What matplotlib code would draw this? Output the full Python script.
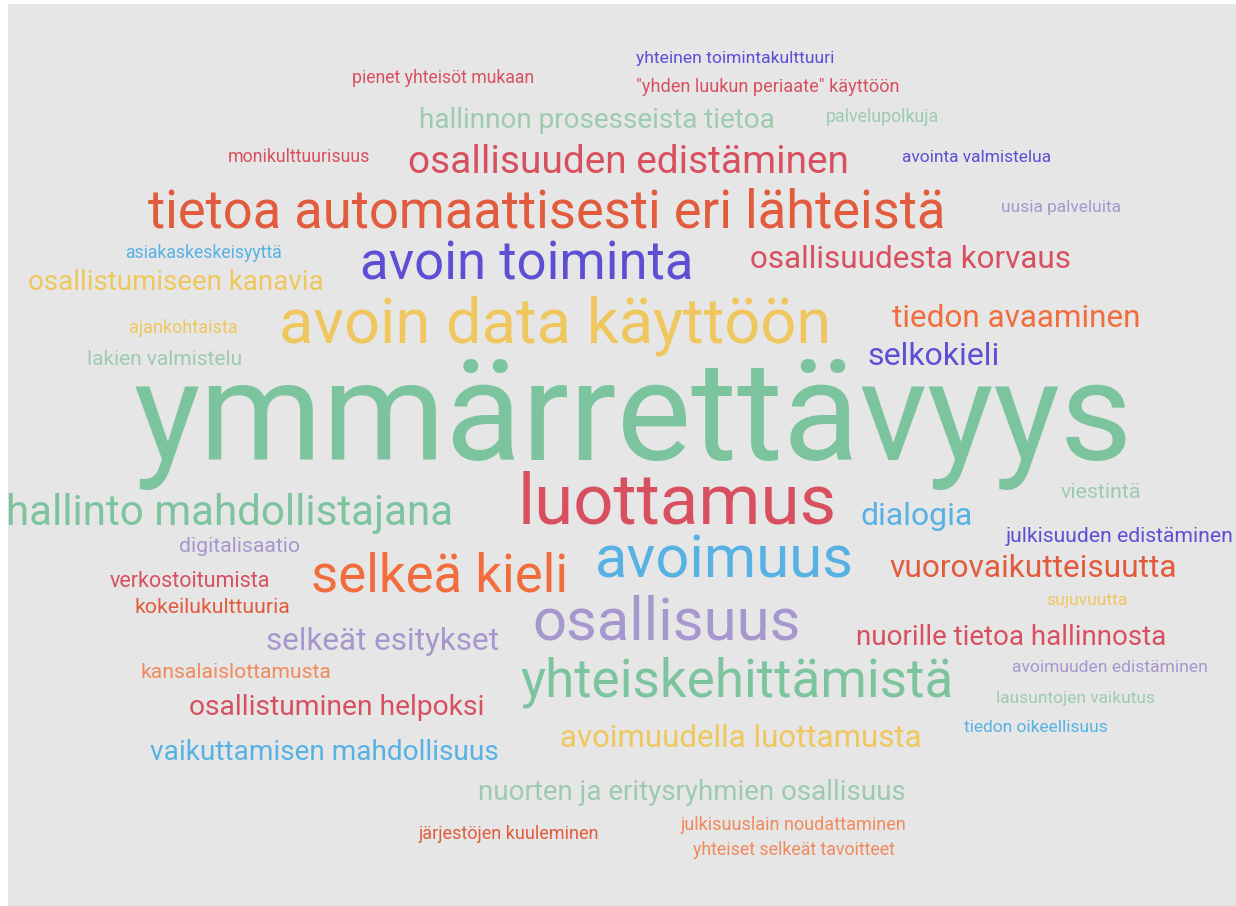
import matplotlib
matplotlib.use("Agg")
import matplotlib.pyplot as plt
from matplotlib.patches import Rectangle

# ---------------- data ----------------
words = [
    "ymmärrettävyys", "tietoa automaattisesti eri lähteistä", "avoin data käyttöön",
    "luottamus", "avoimuus", "osallisuus", "avoin toiminta", "selkeä kieli",
    "yhteiskehittämistä", "osallisuuden edistäminen", "hallinto mahdollistajana",
    "osallisuudesta korvaus", "tiedon avaaminen", "hallinnon prosesseista tietoa",
    "osallistumiseen kanavia", "selkokieli", "dialogia", "vuorovaikutteisuutta",
    "selkeät esitykset", "nuorille tietoa hallinnosta", "osallistuminen helpoksi",
    "vaikuttamisen mahdollisuus", "avoimuudella luottamusta",
    "nuorten ja eritysryhmien osallisuus",
    "pienet yhteisöt mukaan", "yhteinen toimintakulttuuri",
    "\"yhden luukun periaate\" käyttöön", "palvelupolkuja", "monikulttuurisuus",
    "avointa valmistelua", "uusia palveluita", "asiakaskeskeisyyttä", "ajankohtaista",
    "lakien valmistelu", "viestintä", "julkisuuden edistäminen", "digitalisaatio",
    "verkostoitumista", "kokeilukulttuuria", "sujuvuutta", "kansalaislottamusta",
    "avoimuuden edistäminen", "lausuntojen vaikutus", "tiedon oikeellisuus",
    "järjestöjen kuuleminen", "julkisuuslain noudattaminen",
    "yhteiset selkeät tavoitteet",
]
weights = [
    101, 37.8, 45.5,
    51, 43, 43, 38, 38,
    38.2, 28, 30.3,
    22.6, 22.7, 20.1,
    20, 23, 23, 22.8,
    22.6, 20, 20.3,
    20.2, 22.5,
    20,
    12.7, 12.6,
    13.1, 12.8, 12.8,
    12.5, 12.5, 12.7, 13,
    15, 15.4, 15.2, 15.3,
    15.5, 15.3, 12.6, 15.2,
    12.6, 12.5, 12.5,
    13, 13,
    12.8,
]

# ---------------- layout / style ----------------
palette = {
    "G": "#7cc49e", "LG": "#9ccbb0", "OR": "#e15b3c", "O": "#f26d3d",
    "LO": "#f08a5d", "R": "#d8505f", "P": "#5c4fd4", "B": "#58b1e3",
    "Y": "#efc75e", "L": "#a697ce",
}
color_groups = [
    "G", "OR", "Y",
    "R", "B", "L", "P", "O",
    "G", "R", "G",
    "R", "O", "LG",
    "Y", "P", "B", "OR",
    "L", "R", "R",
    "B", "Y",
    "LG",
    "R", "P",
    "R", "LG", "R",
    "P", "L", "B", "Y",
    "LG", "LG", "P", "L",
    "R", "OR", "Y", "LO",
    "L", "LG", "B",
    "OR", "LO",
    "LO",
]
# (center x, baseline y) in pixel space of the 1236x906 canvas
layout = [
    (633, 460), (547, 227), (555, 343),
    (677, 523), (724, 577), (667, 640), (527, 280), (440, 591),
    (737, 697), (628, 173), (230, 525),
    (910, 268), (1016, 327), (597, 128),
    (176, 290), (934, 365), (917, 525), (1033, 577),
    (383, 650), (1011, 645), (337, 715),
    (324, 760), (741, 747),
    (692, 800),
    (443, 83), (735, 63),
    (768, 92), (882, 122), (299, 162),
    (977, 162), (1061, 212), (204, 258), (183, 333),
    (165, 365), (1101, 498), (1120, 542), (240, 552),
    (190, 587), (212, 613), (1087, 605), (236, 678),
    (1110, 672), (1075, 703), (1036, 732),
    (509, 839), (793, 830),
    (794, 855),
]

W, H = 1236, 906
fig = plt.figure(figsize=(W / 100, H / 100), dpi=100)
fig.patch.set_facecolor("white")
ax = fig.add_axes([0, 0, 1, 1])
ax.set_xlim(0, W)
ax.set_ylim(H, 0)
ax.axis("off")
ax.add_patch(Rectangle((8, 4), W - 8, H - 4, facecolor="#e6e6e6", edgecolor="none", zorder=0))

for word, wgt, cg, (x, y) in zip(words, weights, color_groups, layout):
    ax.text(x, y, word, fontsize=wgt, family=["Roboto", "DejaVu Sans"],
            color=palette[cg], ha="center", va="baseline", zorder=2)

fig.savefig("out.png", dpi=100, facecolor="white")
